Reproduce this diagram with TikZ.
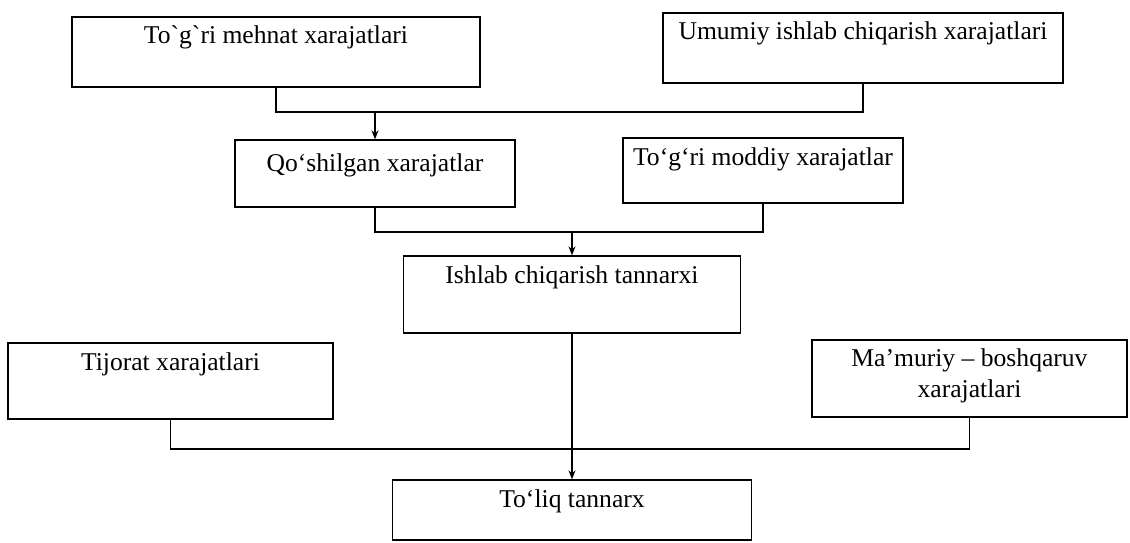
\documentclass[tikz,border=0pt]{standalone}
\usepackage{fontspec}
\setmainfont{Liberation Serif}[Ligatures=TeXOff]
\usetikzlibrary{arrows.meta}
\begin{document}
\begin{tikzpicture}[x=1pt,y=-1pt,
    box/.style={draw, line width=1.3pt, inner sep=0pt, text height=27pt, align=center,
      font=\fontsize{25.6}{31}\selectfont},
    link/.style={line width=1.3pt},
    arr/.style={line width=1.3pt, -{Stealth[length=9pt,width=7pt]}}]
  \useasboundingbox (0,0) rectangle (1130,543);

  \node[box, minimum width=408pt, text depth=43pt] (mehnat) at (276,52) {To`g`ri mehnat xarajatlari};
  \node[box, minimum width=400pt, text depth=43pt] (umumiy) at (863,48) {Umumiy ishlab chiqarish xarajatlari};
  \node[box, minimum width=280pt, text height=31pt, text depth=36pt] (qoshilgan) at (375,173.5) {Qo‘shilgan xarajatlar};
  \node[box, minimum width=280pt, text depth=38pt] (moddiy) at (763,170.5) {To‘g‘ri moddiy xarajatlar};
  \node[box, minimum width=337pt, text depth=50pt] (ishlab) at (572,294.5) {Ishlab chiqarish tannarxi};
  \node[box, minimum width=325pt, text depth=49pt] (tijorat) at (170.5,381) {Tijorat xarajatlari};
  \node[box, minimum width=315pt, text height=57pt, text depth=20pt] (mamuriy) at (969.5,378.5) {Ma’muriy – boshqaruv\\xarajatlari};
  \node[box, minimum width=359pt, text depth=33pt] (toliq) at (572,510) {To‘liq tannarx};

  \coordinate (j1) at (375,112);
  \coordinate (j2) at (572,232);
  \coordinate (j3) at (572,449);

  \draw[link] (mehnat.south) |- (j1) -| (umumiy.south);
  \draw[arr] (j1) -- (qoshilgan.north);
  \draw[link] (qoshilgan.south) |- (j2) -| (moddiy.south);
  \draw[arr] (j2) -- (ishlab.north);
  \draw[link] (tijorat.south) |- (j3) -| (mamuriy.south);
  \draw[arr] (ishlab.south) -- (toliq.north);
\end{tikzpicture}
\end{document}
